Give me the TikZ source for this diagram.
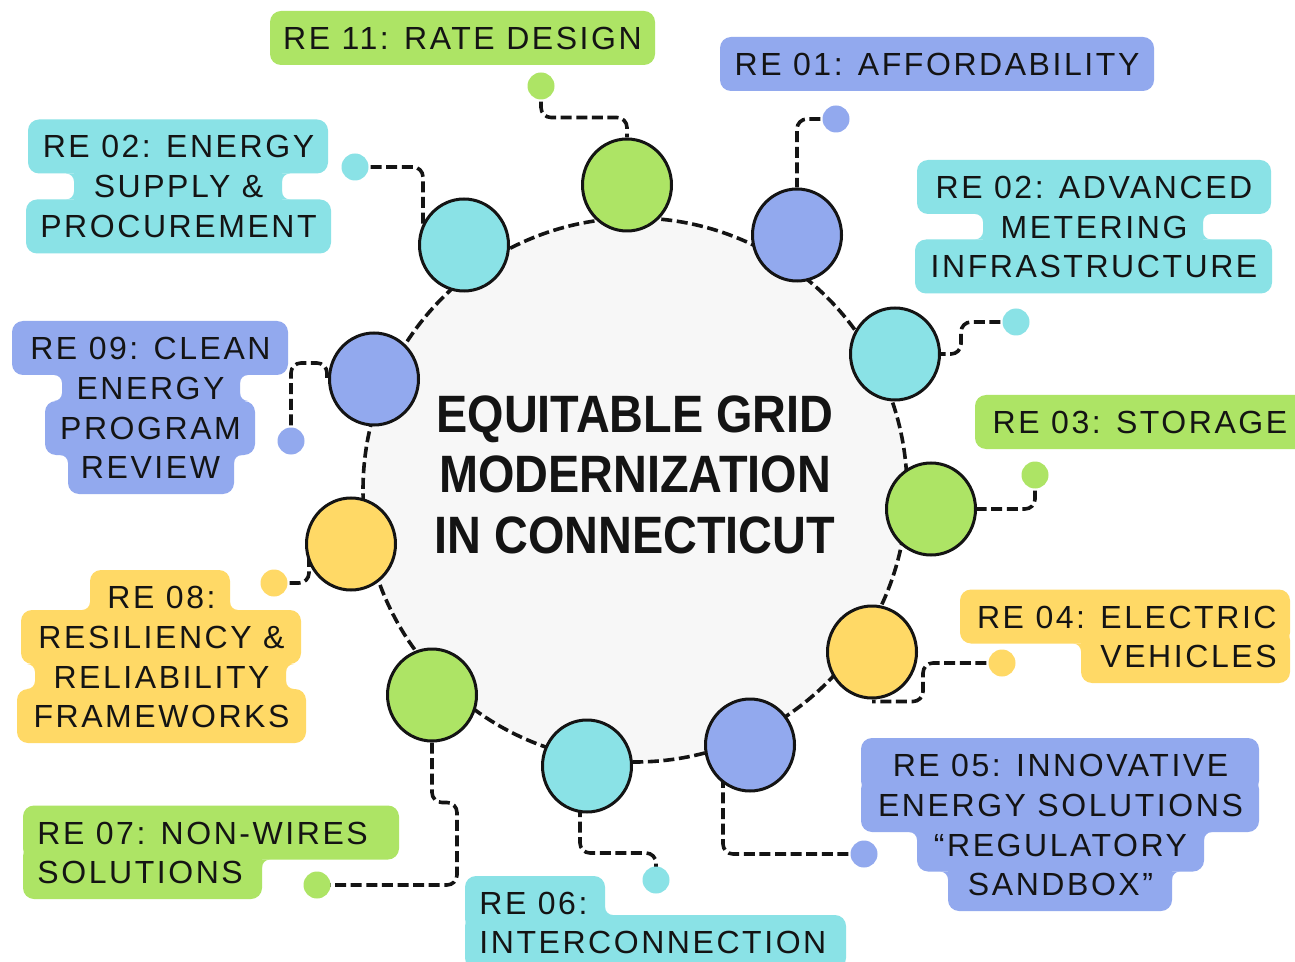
\documentclass[tikz,border=0pt]{standalone}
\usepackage{fontspec}
\setmainfont{Liberation Sans}
\newfontfamily\lblfam[LetterSpace=8]{Liberation Sans}
\newfontfamily\ttlfam[FakeStretch=0.89]{Liberation Sans}
\usetikzlibrary{calc,shapes.geometric}
\definecolor{cgreen}{HTML}{ADE465}
\definecolor{ccyan}{HTML}{8AE2E6}
\definecolor{cblue}{HTML}{92A9EE}
\definecolor{cyellow}{HTML}{FFD966}
\definecolor{cgray}{HTML}{F7F7F7}
\definecolor{ink}{HTML}{141414}
\pgfdeclarelayer{back}
\pgfdeclarelayer{mid}
\pgfsetlayers{back,mid,main}
\tikzset{
  bx/.style={rectangle, rounded corners=5.5pt, minimum height=27pt, inner sep=0pt, draw=none},
  lt/.style={inner sep=0pt, text height=11.5pt, text depth=0pt, text=ink, font=\lblfam\fontsize{16pt}{20pt}\selectfont},
  bub/.style={ellipse, draw=ink, line width=1.5pt, minimum width=44.5pt, minimum height=46pt, inner sep=0pt},
  pin/.style={circle, minimum size=13.5pt, inner sep=0pt, draw=none},
  dashes/.style={line width=1.8pt, dash pattern=on 5.5pt off 2.3pt},
  conn/.style={draw=ink, dashes, rounded corners=5pt},
  ttl/.style={font=\ttlfam\bfseries\fontsize{26.3pt}{30.2pt}\selectfont, text=ink, align=center, inner sep=0pt}
}
\newcommand\lbox[5]{\node[bx,fill=#2,minimum width={(#4-#3)*0.5pt}] (#1) at ({(#3+#4)/2},#5) {};}
\newcommand\fillet[6]{\fill[#1] (#2,{#3+(#5)*#6}) -- (#2,#3) -- ({#2+(#4)*#6},#3) .. controls ({#2+(#4)*0.448*#6},#3) and (#2,{#3+(#5)*0.448*#6}) .. (#2,{#3+(#5)*#6}) -- cycle;}
\begin{document}
\begin{tikzpicture}[x=0.5pt,y=-0.5pt]
\useasboundingbox (0,0) rectangle (1295,962);
\begin{pgfonlayer}{back}
\fill[white] (0,0) rectangle (1295,962);
\node[circle, minimum size=272pt, inner sep=0pt, fill=cgray, draw=ink, dashes] (ring) at (635,490) {};
\end{pgfonlayer}
\node[ttl] (title) at (635,474.5) {EQUITABLE GRID\\MODERNIZATION\\IN CONNECTICUT};
% bubbles on the ring
\node[bub, fill=cgreen]  (c11)  at (627,185) {};
\node[bub, fill=cblue]   (c01)  at (797,235) {};
\node[bub, fill=ccyan]   (c02a) at (895,354) {};
\node[bub, fill=cgreen]  (c03)  at (931,509) {};
\node[bub, fill=cyellow] (c04)  at (872,652) {};
\node[bub, fill=cblue]   (c05)  at (750,745) {};
\node[bub, fill=ccyan]   (c06)  at (587,766) {};
\node[bub, fill=cgreen]  (c07)  at (432,695) {};
\node[bub, fill=cyellow] (c08)  at (351,544) {};
\node[bub, fill=cblue]   (c09)  at (374,379) {};
\node[bub, fill=ccyan]   (c02s) at (464,245) {};
% small dots
\node[pin, fill=cgreen]  (d11)  at (541,86) {};
\node[pin, fill=cblue]   (d01)  at (836,119) {};
\node[pin, fill=ccyan]   (d02a) at (1016,322) {};
\node[pin, fill=cgreen]  (d03)  at (1035,475) {};
\node[pin, fill=cyellow] (d04)  at (1002,663) {};
\node[pin, fill=cblue]   (d05)  at (864,854) {};
\node[pin, fill=ccyan]   (d06)  at (656,880) {};
\node[pin, fill=cgreen]  (d07)  at (317,885) {};
\node[pin, fill=cyellow] (d08)  at (274,583) {};
\node[pin, fill=cblue]   (d09)  at (291,441) {};
\node[pin, fill=ccyan]   (d02s) at (355,167) {};
% connectors
\begin{pgfonlayer}{mid}
\draw[conn] (d11.center) |- ($(c11.north)+(0,-20)$) -- (c11.north);
\draw[conn] (d02s.center) -| ($(c02s.center)+(-41,-5)$);
\draw[conn] (d09.center) |- ($(c09.center)+(-47,-16)$) -- ($(c09.center)+(-47,1)$);
\draw[conn] (d01.center) -| (c01.north);
\draw[conn] (d02a.center) -| ($(c02a.east)+(20,0)$) -- (c02a.east);
\draw[conn] (d03.center) |- (c03.east);
\draw[conn] (d04.center) -| ($(c04.south)+(51,2)$) -- ($(c04.south)+(0,2)$);
\draw[conn] (d05.center) -| ($(c05.center)+(-27,30)$);
\draw[conn] ($(c06.center)+(-7,40)$) -- ($(c06.center)+(-7,87)$) -| (d06.center);
\draw[conn] (c07.south) -- ($(c07.south)+(0,60)$) -- ($(c07.south)+(25,60)$) |- (d07.center);
\draw[conn] (d08.center) -| ($(c08.center)+(-42,14)$);
\end{pgfonlayer}
% label backgrounds
\lbox{b11}{cgreen}{270}{655}{38}
\lbox{b01}{cblue}{720}{1154}{64}
\lbox{b02sa}{ccyan}{28}{328}{146.5}
\lbox{b02sb}{ccyan}{74}{282}{186.5}
\lbox{b02sc}{ccyan}{26}{331}{226.5}
\lbox{b02aa}{ccyan}{917}{1271}{187}
\lbox{b02ab}{ccyan}{983}{1203}{227}
\lbox{b02ac}{ccyan}{915}{1272}{266.5}
\lbox{b09a}{cblue}{12}{288}{348}
\lbox{b09b}{cblue}{62}{240}{388}
\lbox{b09c}{cblue}{45}{255}{428}
\lbox{b09d}{cblue}{68}{234}{467}
\lbox{b03}{cgreen}{975}{1315}{422}
\lbox{b04a}{cyellow}{960}{1290}{616.5}
\lbox{b04b}{cyellow}{1081}{1290}{656}
\lbox{b05a}{cblue}{861}{1259}{765}
\lbox{b05b}{cblue}{861}{1259}{805}
\lbox{b05c}{cblue}{917}{1204}{844.5}
\lbox{b05d}{cblue}{948}{1172}{884}
\lbox{b06a}{ccyan}{465}{605}{903}
\lbox{b06b}{ccyan}{465}{846}{942}
\lbox{b07a}{cgreen}{23}{399}{832.5}
\lbox{b07b}{cgreen}{23}{262}{872}
\lbox{b08a}{cyellow}{90}{230}{597}
\lbox{b08b}{cyellow}{21}{301}{637}
\lbox{b08c}{cyellow}{35}{286}{677}
\lbox{b08d}{cyellow}{17}{306}{716}
% concave joints
\fillet{ccyan}{74}{173.5}{-1}{1}{8}
\fillet{ccyan}{282}{173.5}{1}{1}{8}
\fillet{ccyan}{74}{199.5}{-1}{-1}{8}
\fillet{ccyan}{282}{199.5}{1}{-1}{8}
\fillet{ccyan}{983}{214}{-1}{1}{8}
\fillet{ccyan}{1203}{214}{1}{1}{8}
\fillet{ccyan}{983}{239.5}{-1}{-1}{8}
\fillet{ccyan}{1203}{239.5}{1}{-1}{8}
\fillet{cblue}{62}{375}{-1}{1}{8}
\fillet{cblue}{240}{375}{1}{1}{8}
\fillet{cblue}{62}{401}{-1}{-1}{8}
\fillet{cblue}{240}{401}{1}{-1}{8}
\fillet{cblue}{68}{455}{-1}{1}{8}
\fillet{cblue}{234}{455}{1}{1}{8}
\fillet{cyellow}{1081}{643.5}{-1}{1}{8}
\fillet{cblue}{917}{832}{-1}{1}{8}
\fillet{cblue}{1204}{832}{1}{1}{8}
\fillet{cblue}{948}{871.5}{-1}{1}{8}
\fillet{cblue}{1172}{871.5}{1}{1}{8}
\fillet{ccyan}{605}{915}{1}{-1}{8}
\fillet{cgreen}{262}{859.5}{1}{1}{8}
\fillet{cyellow}{90}{610}{-1}{-1}{8}
\fillet{cyellow}{230}{610}{1}{-1}{8}
\fillet{cyellow}{35}{664}{-1}{1}{8}
\fillet{cyellow}{286}{664}{1}{1}{8}
\fillet{cyellow}{35}{689}{-1}{-1}{8}
\fillet{cyellow}{286}{689}{1}{-1}{8}
% label texts
\node[lt] (t11) at (462.5,38) {RE 11: RATE DESIGN};
\node[lt] (t01) at (937,64) {RE 01: AFFORDABILITY};
\node[lt] (t02sa) at (178.5,146.5) {RE 02: ENERGY};
\node[lt] (t02sb) at (178.5,186.5) {SUPPLY \&};
\node[lt] (t02sc) at (178.5,226.5) {PROCUREMENT};
\node[lt] (t02aa) at (1094,187) {RE 02: ADVANCED};
\node[lt] (t02ab) at (1094,227) {METERING};
\node[lt] (t02ac) at (1094,266.5) {INFRASTRUCTURE};
\node[lt] (t09a) at (150.5,348) {RE 09: CLEAN};
\node[lt] (t09b) at (150.5,388) {ENERGY};
\node[lt] (t09c) at (150.5,428) {PROGRAM};
\node[lt] (t09d) at (150.5,467) {REVIEW};
\node[lt] (t03) at (1140,422) {RE 03: STORAGE};
\node[lt, anchor=east] (t04a) at (1277,616.5) {RE 04: ELECTRIC};
\node[lt, anchor=east] (t04b) at (1277,656) {VEHICLES};
\node[lt] (t05a) at (1060.5,765) {RE 05: INNOVATIVE};
\node[lt] (t05b) at (1060.5,805) {ENERGY SOLUTIONS};
\node[lt] (t05c) at (1060.5,844.5) {“REGULATORY};
\node[lt] (t05d) at (1060.5,884) {SANDBOX”};
\node[lt, anchor=west] (t06a) at (479,903) {RE 06:};
\node[lt, anchor=west] (t06b) at (479,942) {INTERCONNECTION};
\node[lt, anchor=west] (t07a) at (37,832.5) {RE 07: NON-WIRES};
\node[lt, anchor=west] (t07b) at (37,872) {SOLUTIONS};
\node[lt] (t08a) at (161.5,597) {RE 08:};
\node[lt] (t08b) at (161.5,637) {RESILIENCY \&};
\node[lt] (t08c) at (161.5,677) {RELIABILITY};
\node[lt] (t08d) at (161.5,716) {FRAMEWORKS};
\end{tikzpicture}
\end{document}
